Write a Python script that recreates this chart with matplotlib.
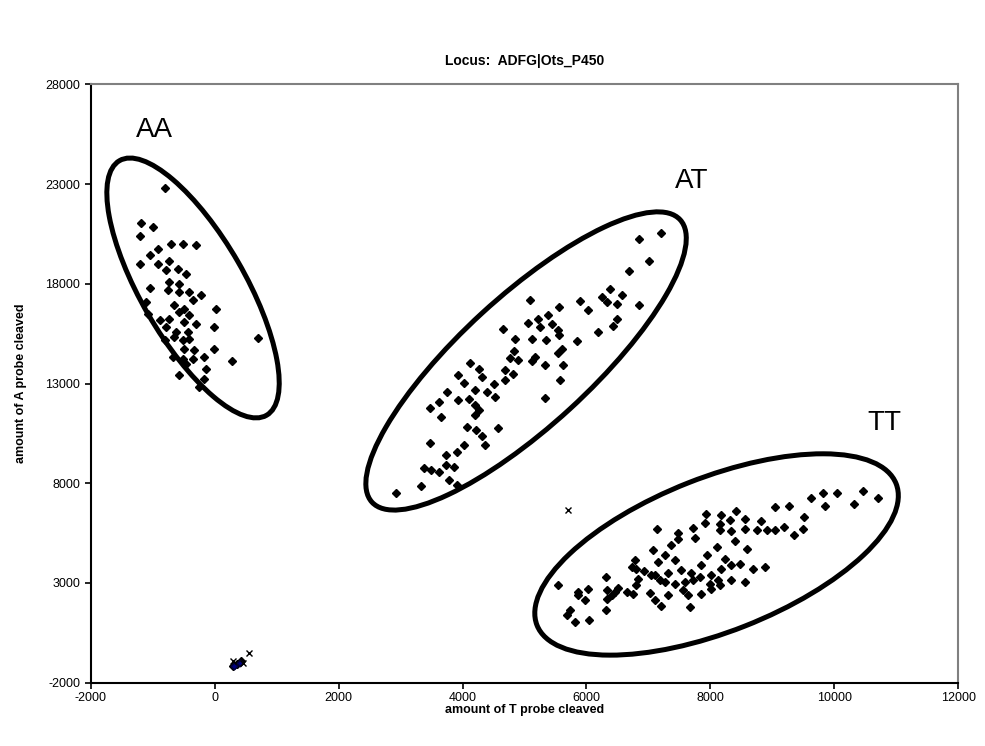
import numpy as np
import matplotlib
matplotlib.use("Agg")
import matplotlib.pyplot as plt
from matplotlib.patches import Ellipse
from matplotlib.transforms import ScaledTranslation

plt.rcParams['font.family'] = ['Liberation Sans', 'DejaVu Sans']
plt.rcParams['axes.unicode_minus'] = False

# AA genotype cluster (T probe, A probe)
aa_t = [-809, -1185, -998, -1212, -702, -514, -300, -917, -1051, -1212, -917, -729,
        -782, -595, -460, -729, -568, -1051, -756, -568, -407, -219, -354, -1104,
        -649, 22, -488, -1078, -568, -407, -729, -890, -488, -300, -5, -782,
        -621, -434, 692, -809, -649, -514, -407, -488, -327, -5, -676, -514,
        -354, -166, 280, -460, -139, -568, -166, -246]
aa_a = [22832, 21076, 20860, 20408, 20022, 20022, 19937, 19771, 19436, 19018, 19018, 19135,
        18683, 18767, 18516, 18098, 18015, 17797, 17680, 17597, 17597, 17463, 17178, 17095,
        16927, 16760, 16760, 16509, 16593, 16425, 16259, 16175, 16092, 16008, 15842, 15842,
        15591, 15591, 15306, 15173, 15340, 15173, 15256, 14757, 14673, 14757, 14339, 14253,
        14253, 14339, 14117, 14004, 13750, 13416, 13249, 12832]

# AT genotype cluster
at_t = [7200, 6851, 7007, 6685, 6379, 6566, 6244, 5896, 5092, 6325, 6486, 6019,
        6851, 5563, 5375, 5214, 5064, 5440, 6486, 6432, 4646, 5253, 5536, 6180,
        5563, 4850, 5118, 5343, 5842, 5600, 5536, 4823, 4770, 4892, 5172, 5118,
        4126, 5333, 5628, 4689, 4260, 3927, 4313, 4807, 4018, 4689, 5574, 4501,
        4207, 4393, 4528, 3750, 3616, 3927, 4099, 5333, 4207, 4260, 4207, 3482,
        3659, 4072, 4216, 4570, 4313, 4356, 3482, 4018, 3911, 3734, 3734, 3857,
        3375, 3498, 3616, 3777, 3337, 3911, 2929]
at_a = [20559, 20236, 19135, 18633, 17730, 17428, 17348, 17130, 17178, 17095, 17011, 16676,
        16927, 16844, 16425, 16259, 16058, 16008, 16259, 15892, 15725, 15842, 15676, 15591,
        15424, 15256, 15256, 15173, 15122, 14757, 14556, 14623, 14290, 14173, 14339, 14117,
        14051, 13951, 13951, 13667, 13750, 13416, 13332, 13500, 13048, 13165, 13165, 12998,
        12664, 12580, 12330, 12580, 12079, 12163, 12245, 12279, 11912, 11661, 11444, 11778,
        11327, 10825, 10658, 10775, 10374, 9902, 10022, 9902, 9568, 9400, 8899, 8817,
        8767, 8646, 8566, 8145, 7864, 7896, 7515]

# TT genotype cluster
tt_t = [10697, 10456, 10322, 10042, 9812, 9624, 9849, 9506, 9276, 9044, 9490, 9345,
        9184, 9034, 8915, 8819, 8755, 8552, 8417, 8175, 8310, 8149, 7934, 7908,
        8552, 8336, 8149, 7720, 7478, 7747, 7478, 7145, 8391, 8594, 8111, 7950,
        7361, 7264, 7076, 7157, 7425, 7853, 8230, 8336, 8175, 8471, 8685, 8883,
        6781, 6807, 6727, 6931, 7103, 7317, 7532, 7692, 7828, 8014, 8122, 8336,
        8552, 7184, 7264, 7425, 7586, 7720, 7559, 7639, 7989, 8014, 7844, 8149,
        6835, 6646, 6754, 7023, 7317, 7210, 7667, 6807, 6513, 6325, 6309, 6459,
        6405, 6325, 6309, 6030, 5869, 5977, 5869, 5536, 5735, 5681, 5816, 6041,
        7103, 7049]
tt_a = [7276, 7612, 6940, 7511, 7511, 7276, 6859, 6307, 6859, 6809, 5720, 5419,
        5805, 5635, 5635, 6086, 5635, 6222, 6588, 6388, 6137, 5972, 6473, 6021,
        5720, 5586, 5635, 5753, 5519, 5252, 5218, 5720, 5084, 4717, 4802, 4381,
        4883, 4381, 4632, 4050, 4131, 3880, 4215, 3880, 3713, 3964, 3713, 3797,
        4131, 3713, 3797, 3575, 3375, 3513, 3630, 3513, 3296, 3375, 3124, 3124,
        3072, 3124, 3044, 2960, 3044, 3124, 2623, 2373, 2960, 2709, 2457, 2874,
        3211, 2543, 2457, 2509, 2373, 1841, 1791, 2874, 2745, 2623, 3296, 2543,
        2373, 2207, 1620, 2709, 2543, 2122, 2373, 2874, 1620, 1370, 1034, 1118,
        2122, 3413]

# no-template / low signal samples
ntc_t = [290, 354, 425]
ntc_a = [-1140, -1055, -937]
blank_t = [317, 408]
blank_a = [-1140, -1005]
fail_t = [5697, 290, 451, 558]
fail_a = [6641, -937, -1005, -502]

# cluster outlines: label, centre (T, A), width/height in inches, angle, label position
clusters = ["AA", "AT", "TT"]
ell_center = [(-349, 17794), (5025, 14133), (8099, 4429)]
ell_size = [(2.94, 1.04), (4.18, 1.30), (3.86, 1.54)]
ell_angle = [-60, 42.5, 21.5]
label_pos = [(-970, 25700), (7690, 23180), (10810, 11040)]

fig = plt.figure(figsize=(9.85, 7.46), dpi=100)
ax = fig.add_axes([0.0921, 0.0849, 0.8808, 0.8019])

for t, a in [(aa_t, aa_a), (at_t, at_a), (tt_t, tt_a), (ntc_t, ntc_a)]:
    ax.plot(t, a, linestyle='none', marker='D', markersize=4.1, color='black')
ax.plot(blank_t, blank_a, linestyle='none', marker='D', markersize=3.4,
        markerfacecolor='#000080', markeredgecolor='#000040')
ax.plot(fail_t, fail_a, linestyle='none', marker='x', markersize=5,
        markeredgewidth=1.0, color='black')

for name, c, s, ang, lp in zip(clusters, ell_center, ell_size, ell_angle, label_pos):
    tr = fig.dpi_scale_trans + ScaledTranslation(c[0], c[1], ax.transData)
    ax.add_patch(Ellipse((0, 0), s[0], s[1], angle=ang, transform=tr,
                         fill=False, edgecolor='black', linewidth=3.6))
    ax.text(lp[0], lp[1], name, fontsize=20, ha='center', va='center')

ax.set_xlim(-2000, 12000)
ax.set_ylim(-2000, 28000)
ax.set_xticks(np.arange(-2000, 12001, 2000))
ax.set_yticks(np.arange(-2000, 28001, 5000))
ax.tick_params(direction='out', length=4, width=1.2, labelsize=9, colors='black')
ax.tick_params(axis='x', pad=2.5)
for side in ['left', 'bottom']:
    ax.spines[side].set_linewidth(1.5)
for side in ['top', 'right']:
    ax.spines[side].set_color('#808080')
    ax.spines[side].set_linewidth(1.5)

ax.set_xlabel("amount of T probe cleaved", fontsize=9, fontweight='bold', labelpad=0)
ax.set_ylabel("amount of A probe cleaved", fontsize=9, fontweight='bold', labelpad=13)
ax.set_title("Locus:  ADFG|Ots_P450", fontsize=10, fontweight='bold', pad=14)

fig.savefig("out.png", dpi=100)
